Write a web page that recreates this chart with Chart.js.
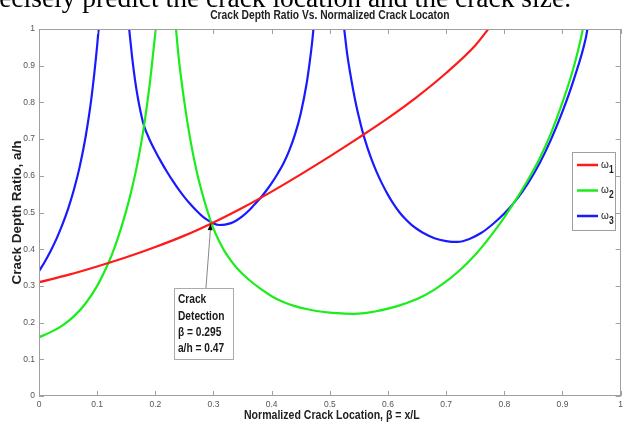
<!DOCTYPE html>
<html>
<head>
<meta charset="utf-8">
<script src="https://cdn.jsdelivr.net/npm/chart.js@4"></script>
<style>
  html, body { margin: 0; padding: 0; background: #fff; overflow: hidden; }
  #wrap { position: relative; width: 627px; height: 428px; }
</style>
</head>
<body>
<div id="wrap"><canvas id="c" width="627" height="428"></canvas></div>
<script>
// ---- data ----
const xTickValues = [0, 0.1, 0.2, 0.3, 0.4, 0.5, 0.6, 0.7, 0.8, 0.9, 1];
const xTickLabels = ['0', '0.1', '0.2', '0.3', '0.4', '0.5', '0.6', '0.7', '0.8', '0.9', '1'];
const yTickValues = [0, 0.1, 0.2, 0.3, 0.4, 0.5, 0.6, 0.7, 0.8, 0.9, 1];
const yTickLabels = ['0', '0.1', '0.2', '0.3', '0.4', '0.5', '0.6', '0.7', '0.8', '0.9', '1'];

const seriesNames = ['ω1', 'ω2', 'ω3'];

// omega 1 (red)
const omega1 = [[0,0.31],[0.05,0.33],[0.1,0.353],[0.15,0.378],[0.2,0.406],[0.25,0.437],[0.3,0.473],
  [0.35,0.513],[0.4,0.557],[0.45,0.604],[0.5,0.653],[0.55,0.704],[0.6,0.757],[0.65,0.815],
  [0.7,0.88],[0.75,0.955],[0.775,1.005]];

// omega 2 (green), two branches
const omega2Left = [[0,0.16],[0.02,0.174],[0.04,0.192],[0.06,0.217],[0.08,0.252],[0.1,0.3],
  [0.12,0.365],[0.13,0.405],[0.14,0.452],[0.15,0.505],[0.16,0.567],[0.17,0.64],[0.18,0.73],
  [0.19,0.845],[0.198,0.96],[0.202,1.02]];
const omega2Right = [[0.235,1.01],[0.24,0.925],[0.25,0.8],[0.26,0.70],[0.27,0.62],[0.28,0.556],
  [0.29,0.502],[0.3,0.456],[0.31,0.421],[0.32,0.392],[0.33,0.369],[0.34,0.349],[0.36,0.318],
  [0.38,0.293],[0.4,0.272],[0.42,0.256],[0.44,0.245],[0.46,0.237],[0.48,0.231],[0.5,0.227],
  [0.52,0.225],[0.54,0.224],[0.56,0.226],[0.58,0.231],[0.6,0.238],[0.62,0.247],[0.64,0.258],
  [0.66,0.272],[0.68,0.29],[0.7,0.312],[0.72,0.338],[0.74,0.368],[0.76,0.403],[0.78,0.443],
  [0.8,0.487],[0.82,0.535],[0.84,0.587],[0.86,0.645],[0.88,0.715],[0.9,0.8],[0.92,0.9],
  [0.935,1.0],[0.937,1.02]];

// omega 3 (blue), three branches
const omega3Left = [[0,0.34],[0.01,0.366],[0.02,0.395],[0.03,0.428],[0.04,0.466],[0.05,0.51],
  [0.06,0.562],[0.07,0.625],[0.08,0.705],[0.09,0.81],[0.1,0.955],[0.103,1.01]];
const omega3Mid = [[0.154,1.02],[0.156,0.985],[0.16,0.925],[0.165,0.862],[0.17,0.812],
  [0.175,0.772],[0.18,0.739],[0.19,0.699],[0.2,0.667],[0.21,0.638],[0.22,0.611],[0.23,0.586],
  [0.24,0.563],[0.25,0.542],[0.26,0.523],[0.27,0.506],[0.28,0.491],[0.29,0.479],[0.3,0.47],
  [0.31,0.466],[0.32,0.467],[0.33,0.471],[0.34,0.479],[0.35,0.49],[0.36,0.504],[0.37,0.521],
  [0.38,0.538],[0.39,0.558],[0.4,0.58],[0.41,0.605],[0.42,0.633],[0.43,0.668],[0.44,0.712],
  [0.45,0.77],[0.46,0.85],[0.465,0.905],[0.47,0.97],[0.473,1.02]];
const omega3Right = [[0.524,1.01],[0.53,0.93],[0.535,0.88],[0.54,0.835],[0.545,0.795],[0.55,0.76],
  [0.556,0.722],[0.56,0.7],[0.57,0.652],[0.58,0.612],[0.59,0.578],[0.6,0.548],[0.61,0.522],
  [0.62,0.5],[0.63,0.482],[0.64,0.467],[0.65,0.455],[0.66,0.445],[0.68,0.43],[0.7,0.422],
  [0.71,0.42],[0.72,0.42],[0.74,0.428],[0.76,0.444],[0.78,0.468],[0.8,0.497],[0.82,0.533],
  [0.84,0.578],[0.86,0.632],[0.88,0.698],[0.9,0.775],[0.92,0.865],[0.94,0.975],[0.945,1.02]];

const detectionBeta = 0.295;
const detectionRatio = 0.47;

// ---- styling ----
const SANS = '"Liberation Sans", Arial, sans-serif';
const RED = '#ff1a1a', GREEN = '#1aee1a', BLUE = '#1a1aff';
const FRAME = '#a0a0a0';

const toXY = arr => arr.map(p => ({ x: p[0], y: p[1] }));
function ds(label, arr, color) {
  return {
    label, data: toXY(arr), borderColor: color, backgroundColor: color,
    borderWidth: 2.2, pointRadius: 0, cubicInterpolationMode: 'monotone', fill: false
  };
}

// draw text horizontally condensed
function condensedText(ctx, text, x, y, sx) {
  ctx.save();
  ctx.translate(x, y);
  ctx.scale(sx, 1);
  ctx.fillText(text, 0, 0);
  ctx.restore();
}

const decorPlugin = {
  id: 'decor',
  beforeDraw(chart) {
    const ctx = chart.ctx;
    ctx.save();
    ctx.fillStyle = '#fff';
    ctx.fillRect(0, 0, chart.width, chart.height);
    // cropped line of text from the surrounding page
    ctx.fillStyle = '#000';
    ctx.font = '27.5px "Liberation Serif", "Times New Roman", serif';
    ctx.textAlign = 'right';
    ctx.textBaseline = 'alphabetic';
    ctx.fillText('precisely predict the crack location and the crack size.', 571, 7);
    ctx.restore();
  },
  afterDatasetsDraw(chart) {
    const ctx = chart.ctx;
    const a = chart.chartArea;
    const xs = chart.scales.x, ys = chart.scales.y;
    ctx.save();
    // frame
    ctx.strokeStyle = FRAME;
    ctx.lineWidth = 1;
    ctx.strokeRect(Math.round(a.left) + 0.5, Math.round(a.top) + 0.5,
      Math.round(a.right - a.left) - 1, Math.round(a.bottom - a.top) - 1);
    // inner ticks on all four sides
    ctx.beginPath();
    xTickValues.forEach(v => {
      const px = Math.round(xs.getPixelForValue(v)) + 0.5;
      ctx.moveTo(px, a.bottom); ctx.lineTo(px, a.bottom - 5);
      ctx.moveTo(px, a.top); ctx.lineTo(px, a.top + 5);
    });
    yTickValues.forEach(v => {
      const py = Math.round(ys.getPixelForValue(v)) + 0.5;
      ctx.moveTo(a.left, py); ctx.lineTo(a.left + 5, py);
      ctx.moveTo(a.right, py); ctx.lineTo(a.right - 5, py);
    });
    ctx.stroke();

    // title
    ctx.fillStyle = '#222';
    ctx.textAlign = 'center';
    ctx.textBaseline = 'middle';
    ctx.font = 'bold 12.5px ' + SANS;
    condensedText(ctx, 'Crack Depth Ratio Vs. Normalized Crack Locaton', (a.left + a.right) / 2, 16, 0.82);
    // x title
    ctx.font = 'bold 12px ' + SANS;
    condensedText(ctx, 'Normalized Crack Location, β = x/L', (a.left + a.right) / 2 + 2, 416, 0.88);
    // y title
    ctx.save();
    ctx.translate(17, (a.top + a.bottom) / 2);
    ctx.rotate(-Math.PI / 2);
    ctx.font = 'bold 13.5px ' + SANS;
    ctx.fillText('Crack Depth Ratio, a/h', 0, 0);
    ctx.restore();

    // legend box
    const lx = 572, ly = 152, lw = 43, lh = 78;
    ctx.fillStyle = '#fff';
    ctx.fillRect(lx, ly, lw, lh);
    ctx.strokeStyle = FRAME;
    ctx.strokeRect(lx + 0.5, ly + 0.5, lw, lh);
    const colors = [RED, GREEN, BLUE];
    seriesNames.forEach((name, i) => {
      const yy = ly + 13 + i * 25.5;
      ctx.strokeStyle = colors[i];
      ctx.lineWidth = 2.5;
      ctx.beginPath(); ctx.moveTo(lx + 5, yy); ctx.lineTo(lx + 26, yy); ctx.stroke();
      ctx.fillStyle = '#222';
      ctx.textAlign = 'left';
      ctx.textBaseline = 'middle';
      ctx.font = '10px ' + SANS;
      ctx.fillText(name.charAt(0), lx + 29, yy);
      ctx.font = 'bold 10px ' + SANS;
      condensedText(ctx, name.slice(1), lx + 37, yy + 5, 0.85);
    });

    // annotation
    const tx = xs.getPixelForValue(detectionBeta);
    const ty = ys.getPixelForValue(detectionRatio);
    const bx = xs.getPixelForValue(0.232), by = ys.getPixelForValue(0.294);
    const bw = 59, bh = 71;
    // leader line
    ctx.strokeStyle = '#888';
    ctx.lineWidth = 1;
    ctx.beginPath(); ctx.moveTo(bx + 32, by); ctx.lineTo(tx, ty + 4); ctx.stroke();
    // arrow head
    const ang = Math.atan2(ty - by, tx - (bx + 32));
    ctx.fillStyle = '#000';
    ctx.beginPath();
    ctx.moveTo(tx, ty);
    ctx.lineTo(tx - 7 * Math.cos(ang - 0.35), ty - 7 * Math.sin(ang - 0.35));
    ctx.lineTo(tx - 7 * Math.cos(ang + 0.35), ty - 7 * Math.sin(ang + 0.35));
    ctx.closePath(); ctx.fill();
    // box
    ctx.fillStyle = '#fff';
    ctx.fillRect(bx, by, bw, bh);
    ctx.strokeStyle = '#aaa';
    ctx.strokeRect(Math.round(bx) + 0.5, Math.round(by) + 0.5, bw, bh);
    ctx.fillStyle = '#1a1a1a';
    ctx.font = 'bold 12px ' + SANS;
    ctx.textAlign = 'left';
    ctx.textBaseline = 'middle';
    const lines = ['Crack', 'Detection', 'β = ' + detectionBeta, 'a/h = ' + detectionRatio];
    lines.forEach((t, i) => condensedText(ctx, t, bx + 4, by + 12 + i * 16.3, 0.85));
    ctx.restore();
  }
};

new Chart(document.getElementById('c'), {
  type: 'line',
  data: {
    datasets: [
      ds(seriesNames[0], omega1, RED),
      ds(seriesNames[1], omega2Left, GREEN),
      ds(seriesNames[1], omega2Right, GREEN),
      ds(seriesNames[2], omega3Left, BLUE),
      ds(seriesNames[2], omega3Mid, BLUE),
      ds(seriesNames[2], omega3Right, BLUE)
    ]
  },
  options: {
    responsive: false,
    animation: false,
    devicePixelRatio: 1,
    layout: { padding: { top: 29, right: 5, left: 0, bottom: 0 } },
    plugins: { legend: { display: false }, title: { display: false }, tooltip: { enabled: false } },
    scales: {
      x: {
        type: 'linear', min: 0, max: 1,
        afterBuildTicks: s => { s.ticks = xTickValues.map(v => ({ value: v })); },
        afterFit: s => { s.height = 32; },
        grid: { display: false, drawTicks: false },
        border: { display: false },
        ticks: {
          padding: 4, color: '#555', font: { family: SANS, size: 8.5 },
          callback: (v) => { const i = xTickValues.indexOf(v); return i >= 0 ? xTickLabels[i] : ''; }
        }
      },
      y: {
        type: 'linear', min: 0, max: 1,
        afterBuildTicks: s => { s.ticks = yTickValues.map(v => ({ value: v })); },
        afterFit: s => { s.width = 39; },
        grid: { display: false, drawTicks: false },
        border: { display: false },
        ticks: {
          padding: 4, color: '#555', font: { family: SANS, size: 8.5 },
          callback: (v) => { const i = yTickValues.indexOf(v); return i >= 0 ? yTickLabels[i] : ''; }
        }
      }
    }
  },
  plugins: [decorPlugin]
});
</script>
</body>
</html>
